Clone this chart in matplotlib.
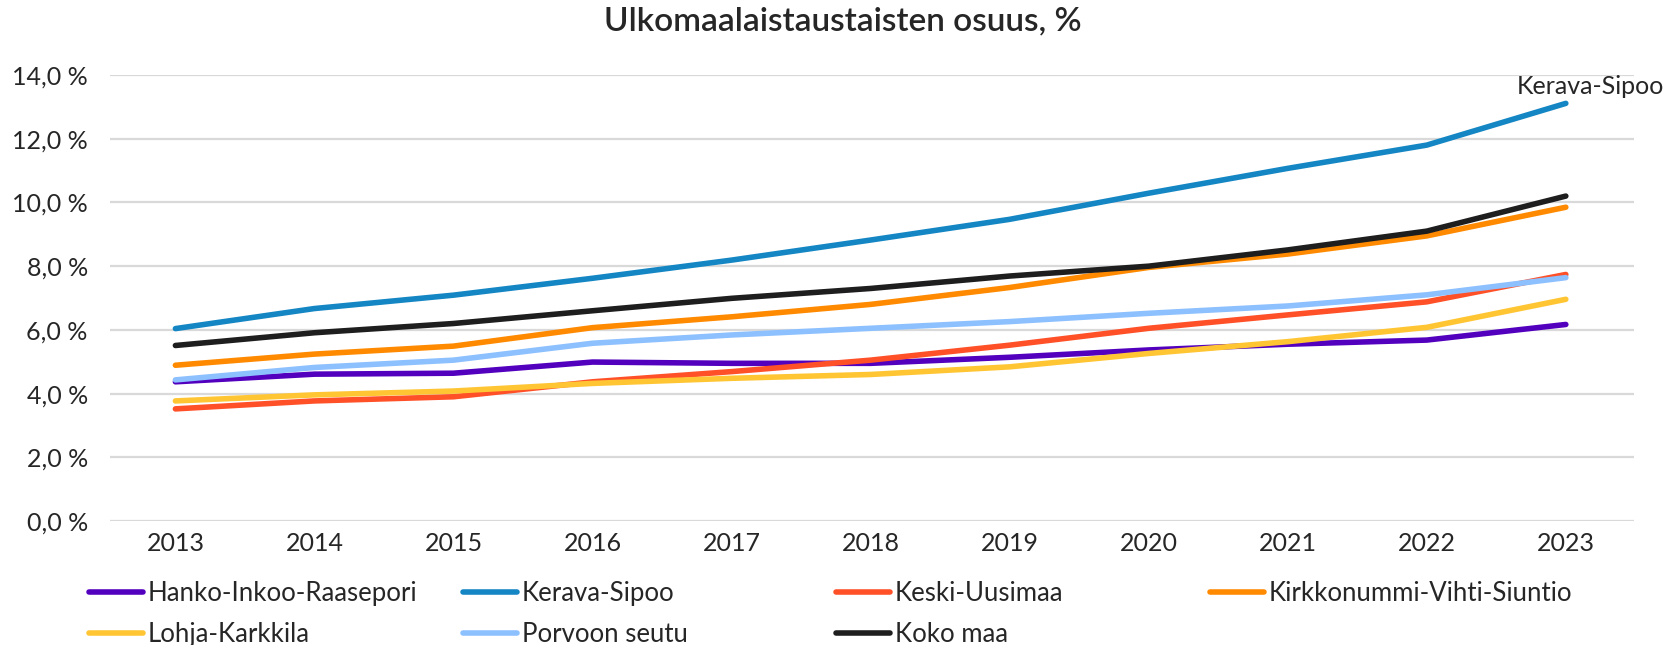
import numpy as np
import matplotlib.pyplot as plt
from matplotlib.ticker import FuncFormatter

plt.rcParams['font.family'] = ['Lato', 'DejaVu Sans']

# data
years = [2013, 2014, 2015, 2016, 2017, 2018, 2019, 2020, 2021, 2022, 2023]
hanko = [4.37, 4.61, 4.64, 4.99, 4.95, 4.95, 5.14, 5.37, 5.55, 5.68, 6.17]
kerava = [6.04, 6.67, 7.09, 7.62, 8.19, 8.82, 9.47, 10.29, 11.07, 11.80, 13.11]
keski = [3.52, 3.77, 3.90, 4.37, 4.69, 5.05, 5.52, 6.05, 6.47, 6.88, 7.74]
kirkko = [4.89, 5.24, 5.49, 6.07, 6.41, 6.80, 7.33, 7.96, 8.38, 8.95, 9.85]
lohja = [3.77, 3.96, 4.08, 4.32, 4.48, 4.60, 4.84, 5.26, 5.63, 6.08, 6.96]
porvoo = [4.43, 4.82, 5.05, 5.58, 5.84, 6.05, 6.26, 6.52, 6.75, 7.10, 7.64]
koko = [5.51, 5.91, 6.20, 6.60, 6.99, 7.30, 7.69, 8.00, 8.51, 9.10, 10.20]

names = ["Hanko-Inkoo-Raasepori", "Kerava-Sipoo", "Keski-Uusimaa",
         "Kirkkonummi-Vihti-Siuntio", "Lohja-Karkkila", "Porvoon seutu", "Koko maa"]
series = [hanko, kerava, keski, kirkko, lohja, porvoo, koko]
colors = ["#5200BE", "#1486C3", "#FF5028", "#FF8A00", "#FFC533", "#8CC0FF", "#1E1E1E"]

txt = "#262626"

fig = plt.figure(figsize=(16.75, 6.45), dpi=100)
ax = fig.add_axes([0.0657, 0.1922, 0.9098, 0.6915])

lines = {}
for name, vals, c in zip(names, series, colors):
    ln, = ax.plot(years, vals, color=c, lw=4, solid_capstyle='round', label=name)
    lines[name] = ln

ax.set_xlim(2012.53, 2023.49)
ax.set_ylim(0, 14)
ax.set_yticks(np.arange(0, 14.1, 2))
ax.set_xticks(years)
ax.yaxis.set_major_formatter(FuncFormatter(lambda v, p: f"{v:.1f}".replace('.', ',') + " %"))
ax.grid(axis='y', color='#D9D9D9', lw=1.6)
ax.set_axisbelow(True)
for s in ax.spines.values():
    s.set_visible(False)
ax.tick_params(length=0, labelsize=18, colors=txt)
ax.tick_params(axis='x', pad=8)
ax.tick_params(axis='y', pad=16)

ax.annotate("Kerava-Sipoo", xy=(years[-1], kerava[-1]), xytext=(25, 5),
            textcoords='offset pixels', ha='center', va='bottom', fontsize=18, color=txt)

fig.suptitle("Ulkomaalaistaustaisten osuus, %", x=0.503, y=0.99, fontsize=24,
             fontweight='semibold', color=txt)

# legend, laid out as four columns
cols = [["Hanko-Inkoo-Raasepori", "Lohja-Karkkila"],
        ["Kerava-Sipoo", "Porvoon seutu"],
        ["Keski-Uusimaa", "Koko maa"],
        ["Kirkkonummi-Vihti-Siuntio"]]
col_x = [0.0531, 0.2764, 0.4991, 0.7224]
for cx, col in zip(col_x, cols):
    leg = fig.legend(handles=[lines[n] for n in col], loc='upper left',
                     bbox_to_anchor=(cx, 0.099), frameon=False, fontsize=18.5,
                     handlelength=2.1, handletextpad=0.2, labelspacing=0.6,
                     borderaxespad=0, borderpad=0)
    for t in leg.get_texts():
        t.set_color(txt)

fig.savefig("out.png", dpi=100)
